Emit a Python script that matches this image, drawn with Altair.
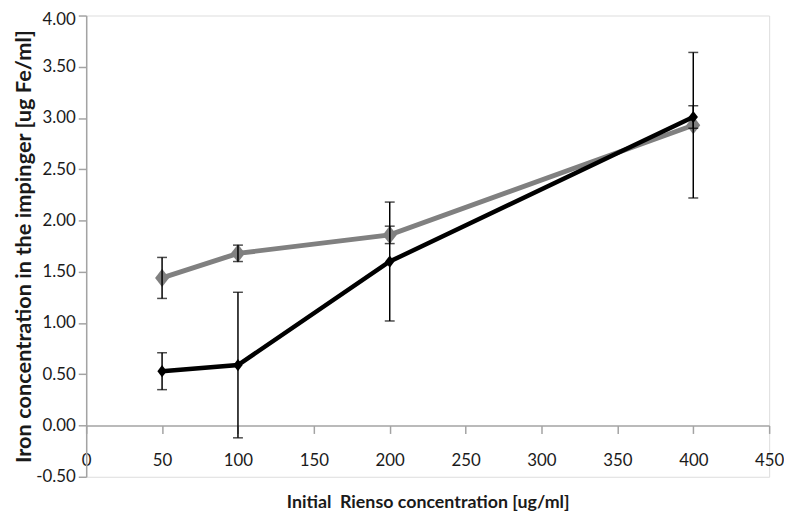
import altair as alt
import pandas as pd

# ---- data ----
conc = [50, 100, 200, 400]
gray_vals = [1.44, 1.68, 1.86, 2.93]
gray_err = [0.20, 0.08, 0.085, 0.71]
black_vals = [0.53, 0.59, 1.60, 3.01]
black_err = [0.18, 0.71, 0.58, 0.11]
x_ticks = [0, 50, 100, 150, 200, 250, 300, 350, 400, 450]
y_ticks = [-0.5, 0.0, 0.5, 1.0, 1.5, 2.0, 2.5, 3.0, 3.5, 4.0]
x_title = "Initial \u00a0Rienso concentration [ug/ml]"
y_title = "Iron concentration in the impinger [ug Fe/ml]"

rows = []
for name, vals, errs in (("gray", gray_vals, gray_err), ("black", black_vals, black_err)):
    for c, v, e in zip(conc, vals, errs):
        rows.append({"series": name, "conc": c, "value": v, "lo": v - e, "hi": v + e})
df = pd.DataFrame(rows)

W, H = 690, 466
AXIS_COLOR = "#a3a3a3"
FONT = "Lato"

x_scale = alt.Scale(domain=[0, 450], nice=False, zero=False)
y_scale = alt.Scale(domain=[-0.5, 4.0], nice=False, zero=False)

x_axis = alt.Axis(
    values=x_ticks, format="d", grid=False,
    offset=-H * 0.5 / 4.5,
    domainColor=AXIS_COLOR, domainWidth=1.5,
    tickColor=AXIS_COLOR, tickWidth=1.5, tickSize=8,
    labelFont=FONT, labelFontSize=17, labelColor="#1a1a1a", labelPadding=19,
    labelFlush=False, labelOverlap=False,
    titleFont=FONT, titleFontSize=18, titleFontWeight="bold", titleColor="#1a1a1a",
    titlePadding=26,
)
y_axis = alt.Axis(
    values=y_ticks, grid=False,
    labelExpr="datum.value < 0 ? '-' + format(-datum.value, '.2f') : format(datum.value, '.2f')",
    labelOffset=alt.condition("datum.value >= 4", alt.value(4), alt.value(0)),
    domainColor=AXIS_COLOR, domainWidth=1.5,
    tickColor=AXIS_COLOR, tickWidth=1.5, tickSize=8,
    labelFont=FONT, labelFontSize=17, labelColor="#1a1a1a", labelPadding=3,
    labelFlush=False, labelOverlap=False,
    titleFont=FONT, titleFontSize=22, titleFontWeight="bold", titleColor="#1a1a1a",
    titlePadding=0,
)

base = alt.Chart(df)

gray_df = df[df.series == "gray"]
black_df = df[df.series == "black"]


def series_layers(d, color, lw, shape, size):
    ch = alt.Chart(d)
    line = ch.mark_line(color=color, strokeWidth=lw).encode(
        x=alt.X("conc:Q", scale=x_scale, axis=x_axis, title=x_title),
        y=alt.Y("value:Q", scale=y_scale, axis=y_axis, title=y_title),
    )
    pts = ch.mark_point(shape=shape, filled=True, color=color, size=size, opacity=1).encode(
        x="conc:Q", y="value:Q"
    )
    return line + pts


diamond = "M0,-1.3L1,0L0,1.3L-1,0Z"
gray_layer = series_layers(gray_df, "#808080", 5, diamond, 200)
black_layer = series_layers(black_df, "#000000", 4.5, diamond, 90)

err_rule = base.mark_rule(color="#000000", strokeWidth=1.5).encode(
    x="conc:Q", y="lo:Q", y2="hi:Q"
)
cap_lo = base.mark_tick(color="#000000", orient="horizontal", size=10, thickness=1.5).encode(
    x="conc:Q", y="lo:Q"
)
cap_hi = base.mark_tick(color="#000000", orient="horizontal", size=10, thickness=1.5).encode(
    x="conc:Q", y="hi:Q"
)

chart = alt.layer(gray_layer, black_layer, err_rule, cap_lo, cap_hi).properties(
    width=W, height=H,
    autosize=alt.AutoSizeParams(type="none"),
    padding={"left": 79, "top": 5, "right": 15, "bottom": 35},
).configure_view(stroke=None).configure(background="white")

chart.save("out.html", embed_options={"renderer": "svg", "actions": False})
